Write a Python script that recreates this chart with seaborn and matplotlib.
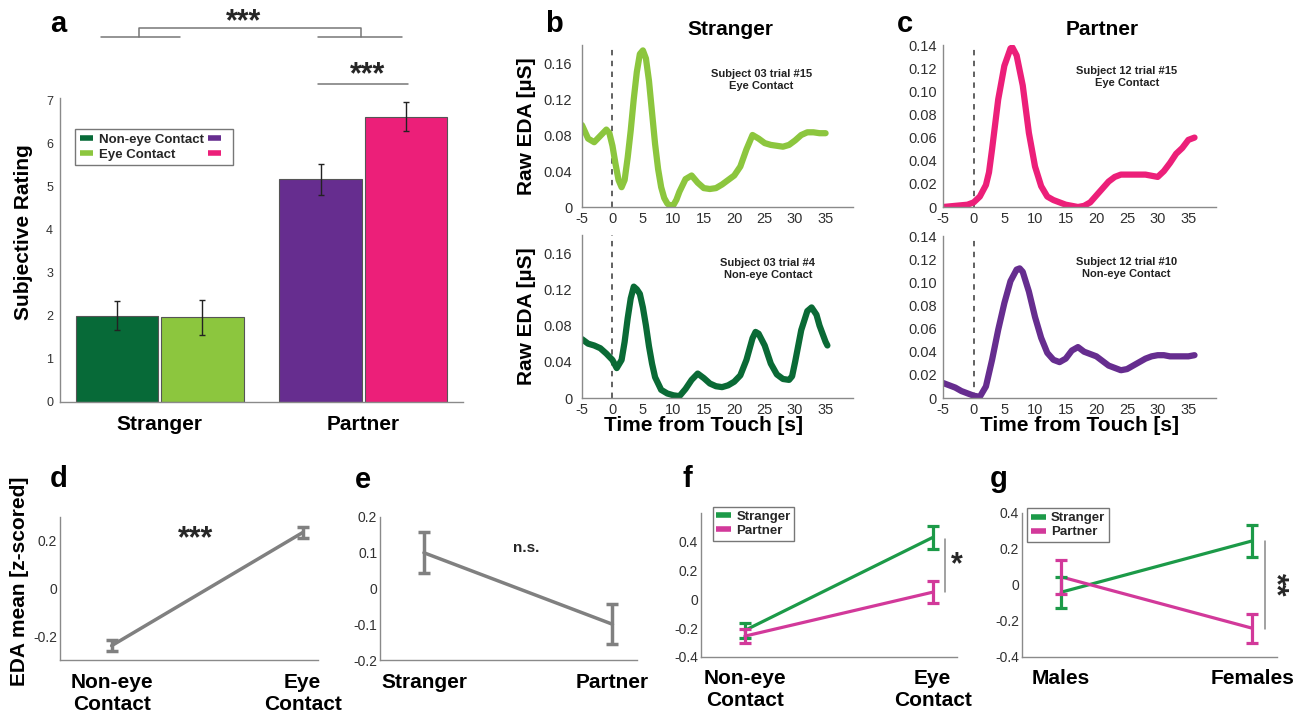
import numpy as np
import pandas as pd
import matplotlib
matplotlib.use("Agg")
import matplotlib.pyplot as plt
import seaborn as sns
from matplotlib.lines import Line2D

sns.set_theme(style="white")
plt.rcParams['font.family'] = ['Liberation Sans', 'DejaVu Sans']
plt.rcParams['axes.unicode_minus'] = False

# ---- panel a: subjective ratings ----
rating_groups = ['Stranger', 'Partner']
rating_contact = ['Non-eye Contact', 'Eye Contact']
# order: stranger non-eye, stranger eye, partner non-eye, partner eye
rating_mean = [2.00, 1.96, 5.17, 6.62]
rating_err = [0.34, 0.40, 0.36, 0.33]
rating_colors = ['#076a38', '#8cc63e', '#662d8f', '#ec1f79']

# ---- panels b, c: single trial raw EDA ----
b_eye_time = [-5, -4, -3, -2, -1, -0.5, 0, 0.5, 1, 1.5, 2, 2.5, 3, 3.5, 4, 4.5, 5, 5.5, 6, 6.5,
              7, 7.5, 8, 8.5, 9, 9.5, 10, 10.5, 11, 12, 13, 14, 15, 16, 17, 18, 19, 20, 21, 22,
              23, 24, 25, 26, 27, 28, 29, 30, 31, 32, 33, 34, 35]
b_eye_eda = [0.091, 0.076, 0.072, 0.079, 0.086, 0.082, 0.068, 0.048, 0.030, 0.022, 0.030, 0.055,
             0.085, 0.120, 0.150, 0.170, 0.174, 0.165, 0.140, 0.105, 0.070, 0.042, 0.022, 0.010,
             0.004, 0.001, 0.002, 0.008, 0.017, 0.031, 0.035, 0.027, 0.021, 0.020, 0.021, 0.025,
             0.030, 0.035, 0.045, 0.064, 0.080, 0.076, 0.071, 0.069, 0.068, 0.067, 0.069, 0.074,
             0.080, 0.083, 0.083, 0.082, 0.082]

b_non_time = [-5, -4, -3, -2, -1, 0, 0.7, 1.5, 2, 2.5, 3, 3.5, 4, 4.5, 5, 5.5, 6, 6.5, 7, 8,
              9, 10, 11, 12, 13, 14, 15, 16, 17, 18, 19, 20, 21, 22, 23, 23.5, 24, 25, 26, 27,
              28, 29, 29.5, 30, 31, 32, 32.7, 33.5, 34, 35, 35.3]
b_non_eda = [0.065, 0.060, 0.058, 0.055, 0.049, 0.042, 0.033, 0.042, 0.062, 0.088, 0.110, 0.123,
             0.120, 0.115, 0.100, 0.080, 0.057, 0.038, 0.023, 0.009, 0.005, 0.003, 0.002, 0.010,
             0.020, 0.027, 0.022, 0.016, 0.013, 0.012, 0.014, 0.018, 0.025, 0.042, 0.066, 0.073,
             0.071, 0.058, 0.038, 0.026, 0.021, 0.020, 0.024, 0.040, 0.075, 0.096, 0.100, 0.092,
             0.080, 0.062, 0.058]

c_eye_time = [-5, -3, -1, 0, 1, 2, 2.5, 3, 4, 5, 6, 6.3, 7, 8, 9, 10, 11, 12, 13, 14, 15, 16,
              17, 18, 19, 20, 21, 22, 23, 24, 25, 26, 27, 28, 29, 30, 31, 32, 33, 34, 35, 36]
c_eye_eda = [0.000, 0.001, 0.002, 0.004, 0.009, 0.019, 0.030, 0.050, 0.093, 0.122, 0.137, 0.138,
             0.131, 0.105, 0.064, 0.035, 0.018, 0.009, 0.006, 0.004, 0.002, 0.001, 0.000, 0.001,
             0.004, 0.010, 0.016, 0.022, 0.026, 0.028, 0.028, 0.028, 0.028, 0.028, 0.027, 0.026,
             0.031, 0.038, 0.046, 0.051, 0.058, 0.060]

c_non_time = [-5, -4, -3, -2, -1, 0, 1, 2, 3, 4, 5, 6, 7, 7.5, 8, 9, 10, 11, 12, 13, 14, 15,
              16, 17, 18, 19, 20, 21, 22, 23, 24, 25, 26, 27, 28, 29, 30, 31, 32, 33, 34, 35, 36]
c_non_eda = [0.013, 0.011, 0.009, 0.006, 0.004, 0.002, 0.001, 0.010, 0.033, 0.059, 0.082, 0.101,
             0.111, 0.112, 0.109, 0.092, 0.070, 0.052, 0.039, 0.033, 0.031, 0.034, 0.041, 0.044,
             0.040, 0.038, 0.036, 0.032, 0.028, 0.026, 0.024, 0.025, 0.028, 0.031, 0.034, 0.036,
             0.037, 0.037, 0.036, 0.036, 0.036, 0.036, 0.037]

# ---- panels d-g: EDA mean (z-scored) ----
contact_labels = ['Non-eye\nContact', 'Eye\nContact']
contact_mean = [-0.24, 0.235]
contact_err = [0.022, 0.022]

relation_labels = ['Stranger', 'Partner']
relation_mean = [0.10, -0.10]
relation_err = [0.057, 0.056]

f_stranger = [-0.215, 0.43]
f_stranger_err = [0.05, 0.08]
f_partner = [-0.255, 0.05]
f_partner_err = [0.05, 0.075]

sex_labels = ['Males', 'Females']
g_stranger = [-0.04, 0.245]
g_stranger_err = [0.085, 0.09]
g_partner = [0.045, -0.24]
g_partner_err = [0.093, 0.08]

green = '#1c9a48'
magenta = '#d2399a'
gray = '#808080'
spine_col = '#8a8a8a'
text_col = '#303030'

W, H = 1298, 714
fig = plt.figure(figsize=(W / 100, H / 100), dpi=100)


def box(l, r, t, b):
    return fig.add_axes([l / W, 1 - b / H, (r - l) / W, (b - t) / H])


def style(ax, size=10, pad=3):
    sns.despine(ax=ax)
    for s in ['left', 'bottom']:
        ax.spines[s].set_color(spine_col)
        ax.spines[s].set_linewidth(1.0)
    ax.tick_params(direction='in', length=3, width=0.8, color=spine_col,
                   labelsize=size, labelcolor=text_col, pad=pad)


lab = dict(fontsize=15, fontweight='bold', color='black')

# ================= a =================
ax = box(60, 463, 98, 402)
df_a = pd.DataFrame({'group': np.repeat(rating_groups, 2),
                     'contact': rating_contact * 2,
                     'rating': rating_mean})
sns.barplot(data=df_a, x='group', y='rating', hue='contact', ax=ax, width=0.84, gap=0.04,
            errorbar=None, legend=False, edgecolor='#555555', linewidth=0.8)
bars = sorted([p for p in ax.patches if p.get_height() > 0], key=lambda p: p.get_x())
centers = [p.get_x() + p.get_width() / 2 for p in bars]
for p, c in zip(bars, rating_colors):
    p.set_facecolor(c)
ax.errorbar(centers, rating_mean, yerr=rating_err, fmt='none', ecolor='#222222',
            elinewidth=1, capsize=2, capthick=1)
ax.set_ylim(0, 7.05)
ax.set_xlim(-0.49, 1.49)
ax.set_yticks(range(8))
style(ax, size=9, pad=5)
ax.tick_params(axis='x', labelsize=15, pad=9, labelcolor='black')
for t in ax.get_xticklabels():
    t.set_fontweight('bold')
ax.set_xlabel('')
ax.set_ylabel('Subjective Rating', **lab)
ax.yaxis.set_label_coords(-0.067, 0.56)

handles = [Line2D([], [], color=c, lw=4, solid_capstyle='butt') for c in rating_colors]
leg = ax.legend(handles, ['Non-eye Contact', 'Eye Contact', '', ''], ncol=2, loc='upper left',
                bbox_to_anchor=(0.037, 0.898), borderaxespad=0, fancybox=False,
                edgecolor='#555555', handlelength=1.0, handletextpad=0.5, columnspacing=0.3,
                borderpad=0.35, labelspacing=0.2, prop={'weight': 'bold', 'size': 9.5})
leg.get_frame().set_linewidth(1.0)

# significance brackets
sig = dict(color='#777777', lw=1.1, clip_on=False)
ax.plot([-0.29, 0.10], [8.47, 8.47], **sig)
ax.plot([0.78, 1.19], [8.47, 8.47], **sig)
ax.plot([-0.10, -0.10, 0.99, 0.99], [8.47, 8.68, 8.68, 8.47], **sig)
ax.text(0.41, 8.45, '***', ha='center', va='bottom', fontsize=22, fontweight='bold', clip_on=False)
ax.plot([0.78, 1.22], [7.38, 7.38], **sig)
ax.text(1.02, 7.22, '***', ha='center', va='bottom', fontsize=22, fontweight='bold', clip_on=False)

# ================= b, c =================
traces = [
    ((582, 853, 45, 207), b_eye_time, b_eye_eda, '#8cc63e', 0.18,
     [0, 0.04, 0.08, 0.12, 0.16], ['0', '0.04', '0.08', '0.12', '0.16'],
     'Subject 03 trial #15\nEye Contact', (0.663, 0.787), True, False),
    ((582, 853, 235, 398), b_non_time, b_non_eda, '#0a6a35', 0.18,
     [0, 0.04, 0.08, 0.12, 0.16], ['0', '0.04', '0.08', '0.12', '0.16'],
     'Subject 03 trial #4\nNon-eye Contact', (0.686, 0.793), True, True),
    ((943, 1216, 45, 207), c_eye_time, c_eye_eda, '#ec1f79', 0.14,
     [0, 0.02, 0.04, 0.06, 0.08, 0.10, 0.12, 0.14],
     ['0', '0.02', '0.04', '0.06', '0.08', '0.10', '0.12', '0.14'],
     'Subject 12 trial #15\nEye Contact', (0.673, 0.80), False, False),
    ((943, 1216, 236, 398), c_non_time, c_non_eda, '#662d8f', 0.14,
     [0, 0.02, 0.04, 0.06, 0.08, 0.10, 0.12, 0.14],
     ['0', '0.02', '0.04', '0.06', '0.08', '0.10', '0.12', '0.14'],
     'Subject 12 trial #10\nNon-eye Contact', (0.673, 0.80), False, True),
]
time_ticks = [-5, 0, 5, 10, 15, 20, 25, 30, 35]
for rect, t, v, col, ytop, yt, ytl, note, npos, ylab, xlab in traces:
    ax = box(*rect)
    ax.axvline(0, color='#555555', lw=1.3, ls=(0, (3, 3)))
    sns.lineplot(x=t, y=v, ax=ax, color=col, linewidth=4.5, sort=False,
                 solid_capstyle='round', solid_joinstyle='round')
    ax.set_xlim(-5, 39.5)
    ax.set_ylim(0, ytop)
    ax.set_xticks(time_ticks, [str(x) for x in time_ticks])
    ax.set_yticks(yt, ytl)
    style(ax, size=10.5, pad=2)
    ax.tick_params(axis='x', pad=3.5)
    ax.tick_params(axis='y', pad=7 if ylab else 4.5)
    ax.text(npos[0], npos[1], note, transform=ax.transAxes, ha='center', va='center',
            fontsize=8, fontweight='bold', color='#222222', linespacing=1.25)
    if ylab:
        ax.set_ylabel('Raw EDA [µS]', **lab)
        ax.yaxis.set_label_coords(-0.17, 0.5)
    if xlab:
        ax.set_xlabel('Time from Touch [s]', **lab)
        ax.xaxis.set_label_coords(0.45 if ylab else 0.5, -0.11)

fig.text(730 / W, 1 - 35 / H, 'Stranger', ha='center', va='baseline', **lab)
fig.text(1102 / W, 1 - 35 / H, 'Partner', ha='center', va='baseline', **lab)

# ================= d =================
ax = box(60, 318, 517, 660)
sns.lineplot(x=contact_labels, y=contact_mean, ax=ax, color=gray, linewidth=2.5, sort=False)
ax.errorbar(contact_labels, contact_mean, yerr=contact_err, fmt='none', ecolor=gray,
            elinewidth=2.5, capsize=4, capthick=2.5)
ax.set_ylim(-0.3, 0.3)
ax.set_xlim(-0.27, 1.08)
ax.set_yticks([-0.2, 0, 0.2], ['-0.2', '0', '0.2'])
style(ax, size=10, pad=2)
ax.tick_params(axis='x', labelsize=15, pad=9, labelcolor='black', length=0)
for t in ax.get_xticklabels():
    t.set_fontweight('bold')
ax.set_ylabel('EDA mean [z-scored]', **lab)
ax.yaxis.set_label_coords(-0.12, 0.55)
ax.text(0.44, 0.205, '***', ha='center', va='center', fontsize=22, fontweight='bold')

# ================= e =================
ax = box(380, 637, 517, 660)
sns.lineplot(x=relation_labels, y=relation_mean, ax=ax, color=gray, linewidth=2.5, sort=False)
ax.errorbar(relation_labels, relation_mean, yerr=relation_err, fmt='none', ecolor=gray,
            elinewidth=2.5, capsize=4, capthick=2.5)
ax.set_ylim(-0.2, 0.2)
ax.set_xlim(-0.233, 1.13)
ax.set_yticks([-0.2, -0.1, 0, 0.1, 0.2], ['-0.2', '-0.1', '0', '0.1', '0.2'])
style(ax, size=10, pad=2)
ax.tick_params(axis='x', labelsize=15, pad=9, labelcolor='black', length=0)
for t in ax.get_xticklabels():
    t.set_fontweight('bold')
ax.text(0.54, 0.114, 'n.s.', ha='center', va='center', fontsize=11, fontweight='bold')


# ================= f, g =================
def interaction(rect, cats, s_val, s_err, p_val, p_err, xlim, ylim, yt, ytl, legpos, sig_y):
    ax = box(*rect)
    df = pd.DataFrame({'cat': cats * 2, 'val': s_val + p_val,
                       'grp': ['Stranger'] * 2 + ['Partner'] * 2})
    sns.lineplot(data=df, x='cat', y='val', hue='grp', palette=[green, magenta], ax=ax,
                 linewidth=2.3, sort=False, legend=False)
    ax.errorbar(cats, s_val, yerr=s_err, fmt='none', ecolor=green, elinewidth=2.3,
                capsize=4, capthick=2.3)
    ax.errorbar(cats, p_val, yerr=p_err, fmt='none', ecolor=magenta, elinewidth=2.3,
                capsize=4, capthick=2.3)
    ax.set_xlim(*xlim)
    ax.set_ylim(*ylim)
    ax.set_yticks(yt, ytl)
    style(ax, size=10, pad=2)
    ax.tick_params(axis='x', labelsize=15, pad=9, labelcolor='black', length=0)
    for t in ax.get_xticklabels():
        t.set_fontweight('bold')
    ax.set_xlabel('')
    ax.set_ylabel('')
    hs = [Line2D([], [], color=green, lw=4, solid_capstyle='butt'),
          Line2D([], [], color=magenta, lw=4, solid_capstyle='butt')]
    lg = ax.legend(hs, ['Stranger', 'Partner'], loc='upper left', bbox_to_anchor=legpos,
                   borderaxespad=0, fancybox=False, edgecolor='#555555', handlelength=1.1,
                   handletextpad=0.4, borderpad=0.3, labelspacing=0.15,
                   prop={'weight': 'bold', 'size': 9.5})
    lg.get_frame().set_linewidth(1.0)
    ax.plot([1.067, 1.067], sig_y, color='#888888', lw=1.1, clip_on=False)
    return ax


yt4 = [-0.4, -0.2, 0, 0.2, 0.4]
ytl4 = ['-0.4', '-0.2', '0', '0.2', '0.4']
ax = interaction((701, 957, 513, 657), contact_labels, f_stranger, f_stranger_err,
                 f_partner, f_partner_err, (-0.234, 1.13), (-0.4, 0.6), yt4, ytl4,
                 (0.045, 1.045), [0.42, 0.053])
ax.text(1.13, 0.24, '*', ha='center', va='center', fontsize=22, fontweight='bold', clip_on=False)

ax = interaction((1022, 1277, 513, 657), sex_labels, g_stranger, g_stranger_err,
                 g_partner, g_partner_err, (-0.205, 1.13), (-0.4, 0.4), yt4, ytl4,
                 (0.02, 1.035), [0.244, -0.242])
ax.text(1.12, 0.0, '**', ha='center', va='center', fontsize=22, fontweight='bold',
        rotation=270, clip_on=False)

# panel letters
for letter, x, y in [('a', 50, 32), ('b', 545, 32), ('c', 897, 32), ('d', 50, 487),
                     ('e', 355, 488), ('f', 683, 487), ('g', 990, 487)]:
    fig.text(x / W, 1 - y / H, letter, ha='left', va='baseline', fontsize=21,
             fontweight='bold', color='black')

fig.savefig('out.png', dpi=100)
